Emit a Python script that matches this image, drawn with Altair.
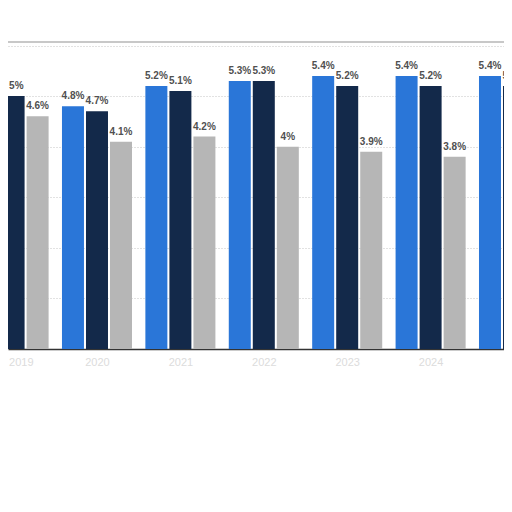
import altair as alt
import pandas as pd

years = ["2019", "2020", "2021", "2022", "2023", "2024", "2025"]
series_names = ["Series A", "Series B", "Series C"]
blue_vals = [5.1, 4.8, 5.2, 5.3, 5.4, 5.4, 5.4]
navy_vals = [5.0, 4.7, 5.1, 5.3, 5.2, 5.2, 5.2]
grey_vals = [4.6, 4.1, 4.2, 4.0, 3.9, 3.8, 3.7]
colors = ["#2a76d8", "#13294a", "#b6b6b6"]
x_domain = [-0.067, 5.88]

rows = []
for si, (name, vals) in enumerate(zip(series_names, [blue_vals, navy_vals, grey_vals])):
    for gi, (yr, v) in enumerate(zip(years, vals)):
        rows.append({"g": gi, "year": yr, "s": si, "series": name, "value": v})
df = pd.DataFrame(rows)

year_array = "[" + ",".join("'" + y + "'" for y in years) + "]"

base = alt.Chart(df).transform_calculate(
    xpos="datum.g + (datum.s - 1) * 0.288",
    label="format(datum.value, '.1~f') + '%'",
)

x_enc = alt.X(
    "xpos:Q",
    scale=alt.Scale(domain=x_domain, nice=False, zero=False, padding=0),
    axis=alt.Axis(
        values=list(range(len(years))),
        labelExpr=year_array + "[datum.value]",
        grid=False,
        ticks=False,
        domainColor="#333333",
        domainWidth=1.5,
        labelColor="#dcdcdc",
        labelFontSize=11,
        labelPadding=7,
        labelFlush=False,
        labelOverlap=False,
        labelAlign={"condition": {"test": "datum.value == 0", "value": "left"}, "value": "center"},
        labelOffset={"condition": {"test": "datum.value == 0", "value": -5}, "value": 0},
        title=None,
    ),
)
y_enc = alt.Y(
    "value:Q",
    scale=alt.Scale(domain=[0, 6.07], nice=False),
    axis=alt.Axis(
        values=[1, 2, 3, 4, 5, 6],
        grid=True,
        gridDash=[1, 2],
        gridColor="#c4c4c4",
        labels=False,
        ticks=False,
        domain=False,
        title=None,
    ),
)

bars = base.mark_bar(size=22, clip=True).encode(
    x=x_enc,
    y=y_enc,
    color=alt.Color(
        "series:N",
        scale=alt.Scale(domain=series_names, range=colors),
        legend=None,
    ),
)

text = base.transform_filter(
    f"datum.xpos >= {x_domain[0]} && datum.xpos <= {x_domain[1]} + 0.15"
).transform_calculate(
    lx=f"max(datum.xpos, {x_domain[0]} + 0.1)"
).mark_text(
    dy=-5,
    baseline="bottom",
    fontSize=10,
    fontWeight="bold",
    color="#505050",
    font="Liberation Sans",
).encode(x="lx:Q", y="value:Q", text="label:N")

frame = alt.Chart(df).mark_rule(color="#c8c8c8", strokeWidth=2).encode(
    y=alt.value(0), x=alt.value(0), x2=alt.value(496)
)

chart = (
    alt.layer(bars, text, frame)
    .properties(
        width=496,
        height=307,
        padding={"left": 0, "top": 34, "right": 0, "bottom": 40},
        autosize="none",
        background="white",
    )
    .configure_view(stroke=None)
)

chart.save("out.html", embed_options={"renderer": "svg", "actions": False})
